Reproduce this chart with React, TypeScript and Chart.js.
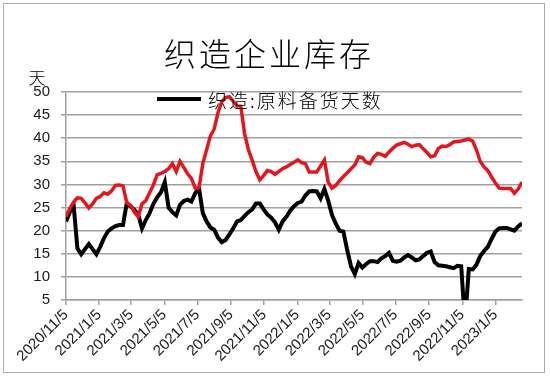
import { useEffect, useRef } from "react";
import { Chart, registerables } from "chart.js";
Chart.register(...registerables);

const titleText = "织造企业库存";
const unitText = "天";
const startDate = "2020/11/5";
const tickLabels = [
  "2020/11/5", "2021/1/5", "2021/3/5", "2021/5/5", "2021/7/5", "2021/9/5", "2021/11/5",
  "2022/1/5", "2022/3/5", "2022/5/5", "2022/7/5", "2022/9/5", "2022/11/5", "2023/1/5",
];
const blackLabel = "织造:原料备货天数";
const redLabel = "织造:坯布库存天数";

const blackSeries = [
  22.0, 24.0, 25.6, 16.2, 14.9, 16.0, 17.1, 16.0, 14.9, 16.5,
  18.4, 19.8, 20.5, 21.0, 21.2, 21.2, 26.0, 25.2, 24.5, 23.5,
  20.5, 22.3, 23.8, 25.8, 27.2, 28.3, 30.5, 25.0, 24.0, 23.3,
  25.6, 26.4, 26.7, 26.3, 28.1, 29.2, 23.8, 22.0, 20.7, 20.2,
  18.5, 17.5, 18.0, 19.2, 20.5, 22.0, 22.3, 23.2, 24.0, 24.6,
  25.9, 25.9, 24.6, 23.5, 22.8, 21.8, 20.2, 22.0, 23.0, 24.3,
  25.3, 26.0, 26.3, 27.6, 28.5, 28.6, 28.5, 27.0, 29.0, 26.5,
  23.4, 21.5, 20.0, 19.8, 15.8, 12.3, 10.6, 13.0, 12.0, 12.8,
  13.4, 13.4, 13.2, 14.0, 14.5, 15.2, 13.5, 13.3, 13.5, 14.2,
  14.7, 14.2, 13.6, 13.8, 14.5, 15.2, 15.5, 13.2, 12.5, 12.4,
  12.3, 12.1, 11.9, 12.4, 12.3, 0.0, 11.7, 11.6, 12.6, 14.5,
  15.6, 16.5, 18.2, 19.8, 20.5, 20.6, 20.6, 20.3, 20.0, 20.9,
  21.6,
];

const redSeries = [
  23.0, 24.8, 26.2, 27.1, 27.0, 26.0, 24.9, 25.8, 27.0, 27.4,
  28.2, 27.9, 28.6, 29.8, 29.9, 29.7, 26.0, 25.5, 24.0, 23.0,
  25.8, 26.5, 28.2, 29.9, 32.1, 32.4, 32.8, 33.4, 34.5, 32.8,
  35.0, 33.7, 32.3, 31.3, 29.2, 29.3, 34.5, 37.5, 40.5, 42.0,
  45.5, 47.9, 48.8, 49.0, 48.0, 47.0, 46.9, 41.0, 37.5, 35.2,
  32.8, 31.0, 31.9, 33.0, 32.8, 32.2, 32.8, 33.4, 33.8, 34.3,
  34.8, 35.3, 34.7, 34.5, 32.7, 32.7, 32.7, 34.0, 35.3, 30.5,
  29.2, 29.8, 30.8, 31.7, 32.5, 33.4, 34.2, 36.0, 35.8, 34.8,
  34.5, 35.9, 36.7, 36.5, 36.1, 37.0, 37.8, 38.5, 38.8, 39.1,
  38.7, 38.2, 38.5, 38.6, 37.7, 36.9, 36.0, 36.2, 37.8, 38.3,
  38.2, 38.6, 39.2, 39.3, 39.4, 39.6, 39.8, 39.4, 37.5, 35.0,
  33.8, 33.0, 31.6, 30.3, 29.2, 29.1, 29.1, 29.1, 28.1, 29.0,
  30.5,
];

const DAY = 86400000;
function parseDate(s: string) {
  const [y, m, d] = s.split("/").map(Number);
  return Date.UTC(y, m - 1, d);
}
const startMs = parseDate(startDate);
function dayOffset(s: string) {
  return Math.round((parseDate(s) - startMs) / DAY);
}
function fmtDay(v: number) {
  const dt = new Date(startMs + v * DAY);
  return `${dt.getUTCFullYear()}/${dt.getUTCMonth() + 1}/${dt.getUTCDate()}`;
}
// weekly observation dates (day offsets from start)
const weekOffsets = blackSeries.map((_, i) => i * 7);

const CJK = "'Noto Sans CJK SC', sans-serif";
const NUM = "'Liberation Sans', Arial, sans-serif";

const textPlugin = {
  id: "textPlugin",
  afterDraw(chart: any) {
    const ctx = chart.ctx as CanvasRenderingContext2D;
    const area = chart.chartArea;
    ctx.save();
    ctx.fillStyle = "#000";
    // title
    ctx.font = `300 32px ${CJK}`;
    (ctx as any).letterSpacing = "3px";
    ctx.textAlign = "left";
    ctx.textBaseline = "middle";
    const tw = ctx.measureText(titleText).width;
    ctx.fillText(titleText, 269 - tw / 2, 54);
    // unit
    (ctx as any).letterSpacing = "0px";
    ctx.font = `300 17px ${CJK}`;
    ctx.textAlign = "center";
    ctx.fillText(unitText, 37, 78);
    // legend (first dataset only)
    const ds = chart.data.datasets[0];
    const ly = area.top + 7;
    ctx.strokeStyle = ds.borderColor;
    ctx.lineWidth = 4;
    ctx.beginPath();
    ctx.moveTo(157, ly);
    ctx.lineTo(201, ly);
    ctx.stroke();
    ctx.font = `300 19px ${CJK}`;
    (ctx as any).letterSpacing = "2px";
    ctx.textAlign = "left";
    ctx.fillStyle = "#000";
    ctx.fillText(ds.label, 208, ly + 2);
    ctx.restore();
  },
};

export default function App() {
  const ref = useRef<HTMLCanvasElement | null>(null);
  useEffect(() => {
    if (!ref.current) return;
    const chart = new Chart(ref.current, {
      type: "line",
      data: {
        datasets: [
          {
            label: blackLabel,
            data: blackSeries.map((v, i) => ({ x: weekOffsets[i], y: v })),
            borderColor: "#000000",
            borderWidth: 4,
            pointRadius: 0,
            tension: 0,
            order: 2,
          },
          {
            label: redLabel,
            data: redSeries.map((v, i) => ({ x: weekOffsets[i], y: v })),
            borderColor: "#e3161d",
            borderWidth: 3.5,
            pointRadius: 0,
            tension: 0,
            order: 1,
          },
        ],
      },
      options: {
        animation: false,
        responsive: false,
        devicePixelRatio: 1,
        layout: { padding: { top: 92, right: 28, left: 0, bottom: 0 } },
        plugins: {
          legend: { display: false },
          title: { display: false },
          tooltip: { enabled: false },
        },
        scales: {
          x: {
            type: "linear",
            min: 0,
            max: weekOffsets[weekOffsets.length - 1],
            afterBuildTicks: (scale: any) => {
              scale.ticks = tickLabels.map((l) => ({ value: dayOffset(l) }));
            },
            afterFit: (scale: any) => {
              scale.height = 77;
            },
            grid: {
              drawOnChartArea: false,
              drawTicks: true,
              tickLength: 5,
              color: "#a0a0a0",
              lineWidth: 1.5,
            },
            border: { color: "#a0a0a0", width: 1.5 },
            ticks: {
              autoSkip: false,
              maxRotation: 45,
              minRotation: 45,
              padding: 1,
              color: "#1a1a1a",
              font: { size: 15, family: NUM },
              callback: (v: any) => fmtDay(Number(v)),
            },
          },
          y: {
            min: 5,
            max: 50,
            afterFit: (scale: any) => {
              scale.width = 66;
            },
            grid: {
              color: "#a0a0a0",
              lineWidth: 1.5,
              tickLength: 5,
            },
            border: { color: "#a0a0a0", width: 1.5 },
            ticks: {
              stepSize: 5,
              padding: 11,
              color: "#1a1a1a",
              font: { size: 15, family: NUM },
            },
          },
        },
      },
      plugins: [textPlugin],
    } as any);
    return () => chart.destroy();
  }, []);

  return (
    <div style={{ position: "fixed", left: 0, top: 0, width: 550, height: 377, background: "#fff" }}>
      <div
        style={{
          position: "absolute",
          left: 3,
          top: 3,
          width: 540,
          height: 368,
          border: "1.5px solid #aaaaaa",
        }}
      />
      <canvas ref={ref} width={550} height={377} style={{ position: "absolute", left: 0, top: 0 }} />
    </div>
  );
}
